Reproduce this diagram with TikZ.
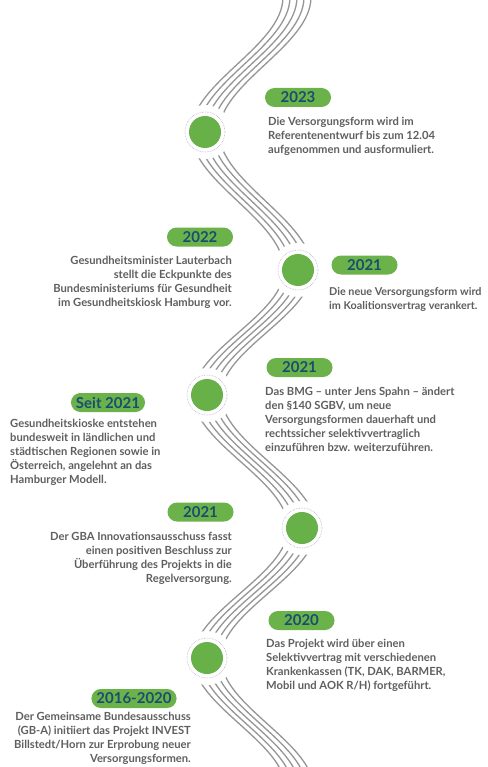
\documentclass[tikz,border=0pt]{standalone}
\usepackage{fontspec}
\setmainfont{Lato}
\usepackage{tikz}
\usetikzlibrary{positioning}

\definecolor{pillgreen}{RGB}{108,178,74}
\definecolor{dotgreen}{RGB}{104,176,72}
\definecolor{yearblue}{RGB}{24,78,112}
\definecolor{textgray}{RGB}{95,95,95}
\definecolor{wavegray}{RGB}{150,150,150}
\definecolor{ringgray}{RGB}{176,170,190}

\begin{document}
\begin{tikzpicture}[x=1pt,y=-1pt]
    \tikzset{dot/.style = {shape=circle, fill=dotgreen, minimum size=32pt, inner sep=0pt}}
    \tikzset{year/.style = {fill=pillgreen, text=yearblue, rounded corners=9.5pt, minimum height=19pt, minimum width=66pt, inner xsep=5pt, inner ysep=0pt, font=\bfseries\fontsize{15}{15}\selectfont}}
    \tikzset{txt/.style = {text=textgray, inner sep=0pt, font=\bfseries\fontsize{11.2}{14}\selectfont}}
    \tikzset{wave/.style = {draw=wavegray, line width=1.3pt}}

    \fill[white] (0,0) rectangle (487,767);
    \clip (0,0) rectangle (487,767);

    % wave
    \foreach \o in {-14,-7,0,7,14}{
        \begin{scope}[xshift=\o pt]
        \draw[wave] (297,-3) .. controls (297,46) and (205,83) .. (205,132)
            .. controls (205,182) and (298,220) .. (298,270)
            .. controls (298,315) and (207,350) .. (207,395)
            .. controls (207,443) and (302,480) .. (302,528)
            .. controls (302,575) and (207,611) .. (207,658)
            .. controls (207,706) and (300,742) .. (300,790);
        \end{scope}
    }

    % dots
    \foreach \n/\x/\y in {d1/205/132, d2/298/270, d3/207/395, d4/302/528, d5/207/658}{
        \fill[white] (\x,\y) circle (27pt);
        \draw[ringgray, densely dotted, line width=0.6pt] (\x,\y) circle (20pt);
        \node[dot] (\n) at (\x,\y) {};
    }

    % years
    \node[year] (y2023) at (298,97.5) {2023};
    \node[year] (y2022) at (200,237) {2022};
    \node[year] (y2021a) at (364.5,265) {2021};
    \node[year] (y2021b) at (299.5,367.5) {2021};
    \node[year] (yseit) at (108,402.5) {Seit 2021};
    \node[year] (y2021c) at (200.5,512) {2021};
    \node[year] (y2020) at (301.5,620.5) {2020};
    \node[year] (y2016) at (134,698.5) {2016-2020};

    % texts
    \node[txt, anchor=north west, align=left] (t2023) at (268,117)
        {Die Versorgungsform wird im\\Referentenentwurf bis zum 12.04\\aufgenommen und ausformuliert.};
    \node[txt, anchor=north east, align=right] (t2022) at (232,256)
        {Gesundheitsminister Lauterbach\\stellt die Eckpunkte des\\Bundesministeriums für Gesundheit\\im Gesundheitskiosk Hamburg vor.};
    \node[txt, anchor=north west, align=left, font=\bfseries\fontsize{10.8}{14}\selectfont] (t2021a) at (329,287)
        {Die neue Versorgungsform wird\\im Koalitionsvertrag verankert.};
    \node[txt, anchor=north west, align=left] (t2021b) at (265,387)
        {Das BMG – unter Jens Spahn – ändert\\den §140 SGBV, um neue\\Versorgungsformen dauerhaft und\\rechtssicher selektivvertraglich\\einzuführen bzw. weiterzuführen.};
    \node[txt, anchor=north west, align=left] (tseit) at (10,419)
        {Gesundheitskioske entstehen\\bundesweit in ländlichen und\\städtischen Regionen sowie in\\Österreich, angelehnt an das\\Hamburger Modell.};
    \node[txt, anchor=north east, align=right] (t2021c) at (232,532)
        {Der GBA Innovationsausschuss fasst\\einen positiven Beschluss zur\\Überführung des Projekts in die\\Regelversorgung.};
    \node[txt, anchor=north west, align=left] (t2020) at (266,639)
        {Das Projekt wird über einen\\Selektivvertrag mit verschiedenen\\Krankenkassen (TK, DAK, BARMER,\\Mobil und AOK R/H) fortgeführt.};
    \node[txt, anchor=north east, align=right] (t2016) at (191,712)
        {Der Gemeinsame Bundesausschuss\\(GB-A) initiiert das Projekt INVEST\\Billstedt/Horn zur Erprobung neuer\\Versorgungsformen.};
\end{tikzpicture}
\end{document}
